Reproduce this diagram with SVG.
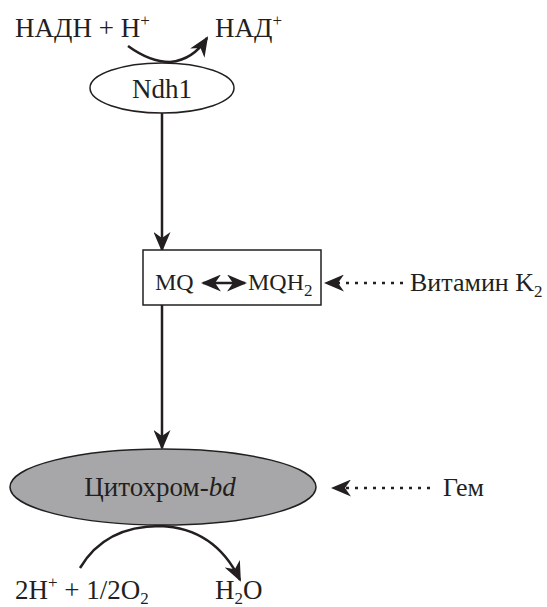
<svg xmlns="http://www.w3.org/2000/svg" width="547" height="607" viewBox="0 0 547 607">
<style>
text{font-family:'Liberation Serif','Times New Roman','DejaVu Serif',serif;font-size:27px;fill:#231f20}
.sm{font-size:26px}
.bx{font-size:24px}
.sup{font-size:17px}
.ln{fill:none;stroke:#231f20;stroke-width:2.5}
.dot{fill:none;stroke:#231f20;stroke-width:2.5;stroke-dasharray:3 6}
.node{stroke:#231f20;stroke-width:1.5}
</style>
<defs>
<marker id="big" viewBox="0 0 10 10" refX="9" refY="5" markerWidth="20" markerHeight="17" markerUnits="userSpaceOnUse" orient="auto-start-reverse" preserveAspectRatio="none">
<path d="M0,0 L10,5 L0,10 L3,5 Z" fill="#231f20"/>
</marker>
</defs>
<g id="connectors">
<path class="ln" d="M128,46 Q150,62 170,62 Q193,60 207,38" marker-end="url(#big)"/>
<line class="ln" x1="162" y1="113" x2="162" y2="250" marker-end="url(#big)"/>
<line class="dot" x1="403" y1="283" x2="326" y2="283" marker-end="url(#big)"/>
<line class="ln" x1="162" y1="305" x2="162" y2="448" marker-end="url(#big)"/>
<line class="dot" x1="430" y1="488" x2="333" y2="488" marker-end="url(#big)"/>
<path class="ln" d="M80,568 Q105,526 160,526 Q215,528 240,580" marker-end="url(#big)"/>
</g>
<g id="substrates">
<text x="15" y="37">НАДН + Н<tspan class="sup" dy="-11">+</tspan></text>
<text x="215" y="37">НАД<tspan class="sup" dy="-11">+</tspan></text>
</g>
<g id="ndh1">
<ellipse class="node" cx="162" cy="88" rx="72" ry="25" fill="#fff"/>
<text x="162" y="98" text-anchor="middle">Ndh1</text>
</g>
<g id="mq">
<rect class="node" x="143" y="250" width="178" height="55" fill="#fff"/>
<text class="bx" x="155" y="290">MQ</text>
<line class="ln" x1="203" y1="283" x2="245" y2="283" marker-start="url(#big)" marker-end="url(#big)"/>
<text class="bx" x="248" y="290">MQH<tspan class="sup" dy="6">2</tspan></text>
</g>
<g id="vitk2">
<text class="sm" x="410" y="291">Витамин K<tspan class="sup" dy="6">2</tspan></text>
</g>
<g id="cyt">
<ellipse class="node" cx="163" cy="487" rx="153" ry="38" fill="#a7a7a9"/>
<text x="160" y="496" text-anchor="middle">Цитохром-<tspan font-style="italic">bd</tspan></text>
</g>
<g id="heme">
<text class="sm" x="443" y="496">Гем</text>
</g>
<g id="products">
<text x="15" y="599">2H<tspan class="sup" dy="-11">+</tspan><tspan dy="11"> + 1/2O</tspan><tspan class="sup" dy="5">2</tspan></text>
<text x="215" y="599">H<tspan class="sup" dy="5">2</tspan><tspan dy="-5">O</tspan></text>
</g>
</svg>
